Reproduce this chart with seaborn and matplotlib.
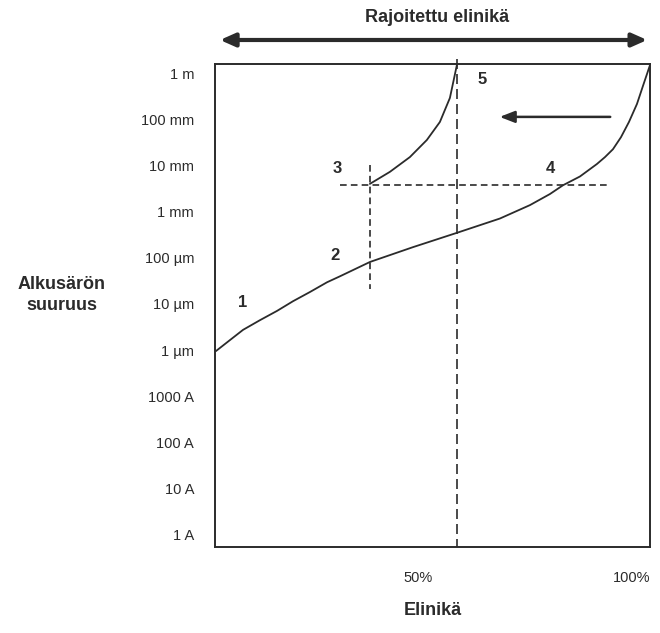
import numpy as np
import pandas as pd
import matplotlib
matplotlib.use("Agg")
import matplotlib.pyplot as plt
import seaborn as sns

# curve values: x = life (%), y = log10 of initial crack size (m)
main_x = [0.2, 3.45, 6.44, 10.34, 14.25, 17.93, 21.84, 25.75, 28.74, 35.63, 45.5, 55.6,
          65.5, 72.4, 77.0, 80.0, 83.9, 87.8, 89.66, 91.49, 93.33, 95.17, 97.01, 98.39, 100]
main_y = [-6.02, -5.78, -5.56, -5.35, -5.15, -4.94, -4.74, -4.53, -4.40, -4.09, -3.77, -3.46,
          -3.15, -2.86, -2.62, -2.43, -2.24, -1.97, -1.82, -1.65, -1.39, -1.06, -0.67, -0.28, 0.17]
short_x = [35.6, 40.2, 44.8, 48.7, 51.7, 54.0, 55.6]
short_y = [-2.40, -2.14, -1.82, -1.45, -1.06, -0.54, 0.17]

tick_pos = [0, -1, -2, -3, -4, -5, -6, -7, -8, -9, -10]
tick_labels = ["1 m", "100 mm", "10 mm", "1 mm", "100 µm", "10 µm", "1 µm",
               "1000 A", "100 A", "10 A", "1 A"]
xtick_pos = [50, 100]
xtick_labels = ["50%", "100%"]

point_labels = ["1", "2", "3", "4", "5"]
point_x = [6.4, 27.6, 28.0, 77.0, 61.4]
point_y = [-4.96, -3.94, -2.06, -2.06, -0.15]

# dashed guide lines
h_dash_y = -2.42
h_dash_x = (28.7, 90.3)
v_short_x = 35.6
v_short_y = (-2.0, -4.68)
v_long_x = 55.6
v_long_y = (0.3, -10.26)

sns.set_style("white")
plt.rcParams['font.family'] = ['Liberation Sans', 'DejaVu Sans']

ink = "#2b2b2b"
df_main = pd.DataFrame({"x": main_x, "y": main_y})
df_short = pd.DataFrame({"x": short_x, "y": short_y})

fig = plt.figure(figsize=(6.6, 6.33), dpi=100)
ax = fig.add_axes([0.3258, 0.1359, 0.6590, 0.7630])

sns.lineplot(data=df_main, x="x", y="y", sort=False, color=ink, lw=1.3, ax=ax)
sns.lineplot(data=df_short, x="x", y="y", sort=False, color=ink, lw=1.3, ax=ax)

ax.plot(h_dash_x, [h_dash_y, h_dash_y], color=ink, lw=1.2, dashes=(4, 2.5))
ax.plot([v_short_x, v_short_x], v_short_y, color=ink, lw=1.2, dashes=(4, 2.5))
ax.plot([v_long_x, v_long_x], v_long_y, color=ink, lw=1.2, dashes=(6, 3), clip_on=False)

for t, px, py in zip(point_labels, point_x, point_y):
    ax.text(px, py, t, ha="center", va="center", fontsize=12, fontweight="bold", color=ink)

# arrow inside plot
ax.annotate("", xy=(64.8, -0.95), xytext=(91.5, -0.95),
            arrowprops=dict(arrowstyle="-|>,head_length=0.9,head_width=0.35", color=ink, lw=1.8))

ax.set_xlim(0, 100)
ax.set_ylim(-10.26, 0.195)
ax.set_yticks(tick_pos)
ax.set_yticklabels(tick_labels)
ax.set_xticks(xtick_pos)
ax.set_xticklabels(xtick_labels, ha="right")
ax.tick_params(axis="both", length=0, labelsize=10.5, colors=ink)
ax.tick_params(axis="y", pad=15)
ax.tick_params(axis="x", pad=17)
ax.set_xlabel("")
ax.set_ylabel("")
for s in ax.spines.values():
    s.set_visible(True)
    s.set_color(ink)
    s.set_linewidth(1.4)

# top double arrow
ax.annotate("", xy=(1.0, 1.0497), xytext=(0.005, 1.0497), xycoords="axes fraction",
            textcoords="axes fraction",
            arrowprops=dict(arrowstyle="<|-|>,head_length=0.9,head_width=0.4", color=ink, lw=3))

fig.text(0.662, 0.973, "Rajoitettu elinikä", ha="center", va="center",
         fontsize=13, fontweight="bold", color=ink)
fig.text(0.094, 0.534, "Alkusärön\nsuuruus", ha="center", va="center",
         fontsize=13, fontweight="bold", color=ink, linespacing=1.3)
fig.text(0.656, 0.036, "Elinikä", ha="center", va="center",
         fontsize=13, fontweight="bold", color=ink)

fig.savefig("out.png", dpi=100)
